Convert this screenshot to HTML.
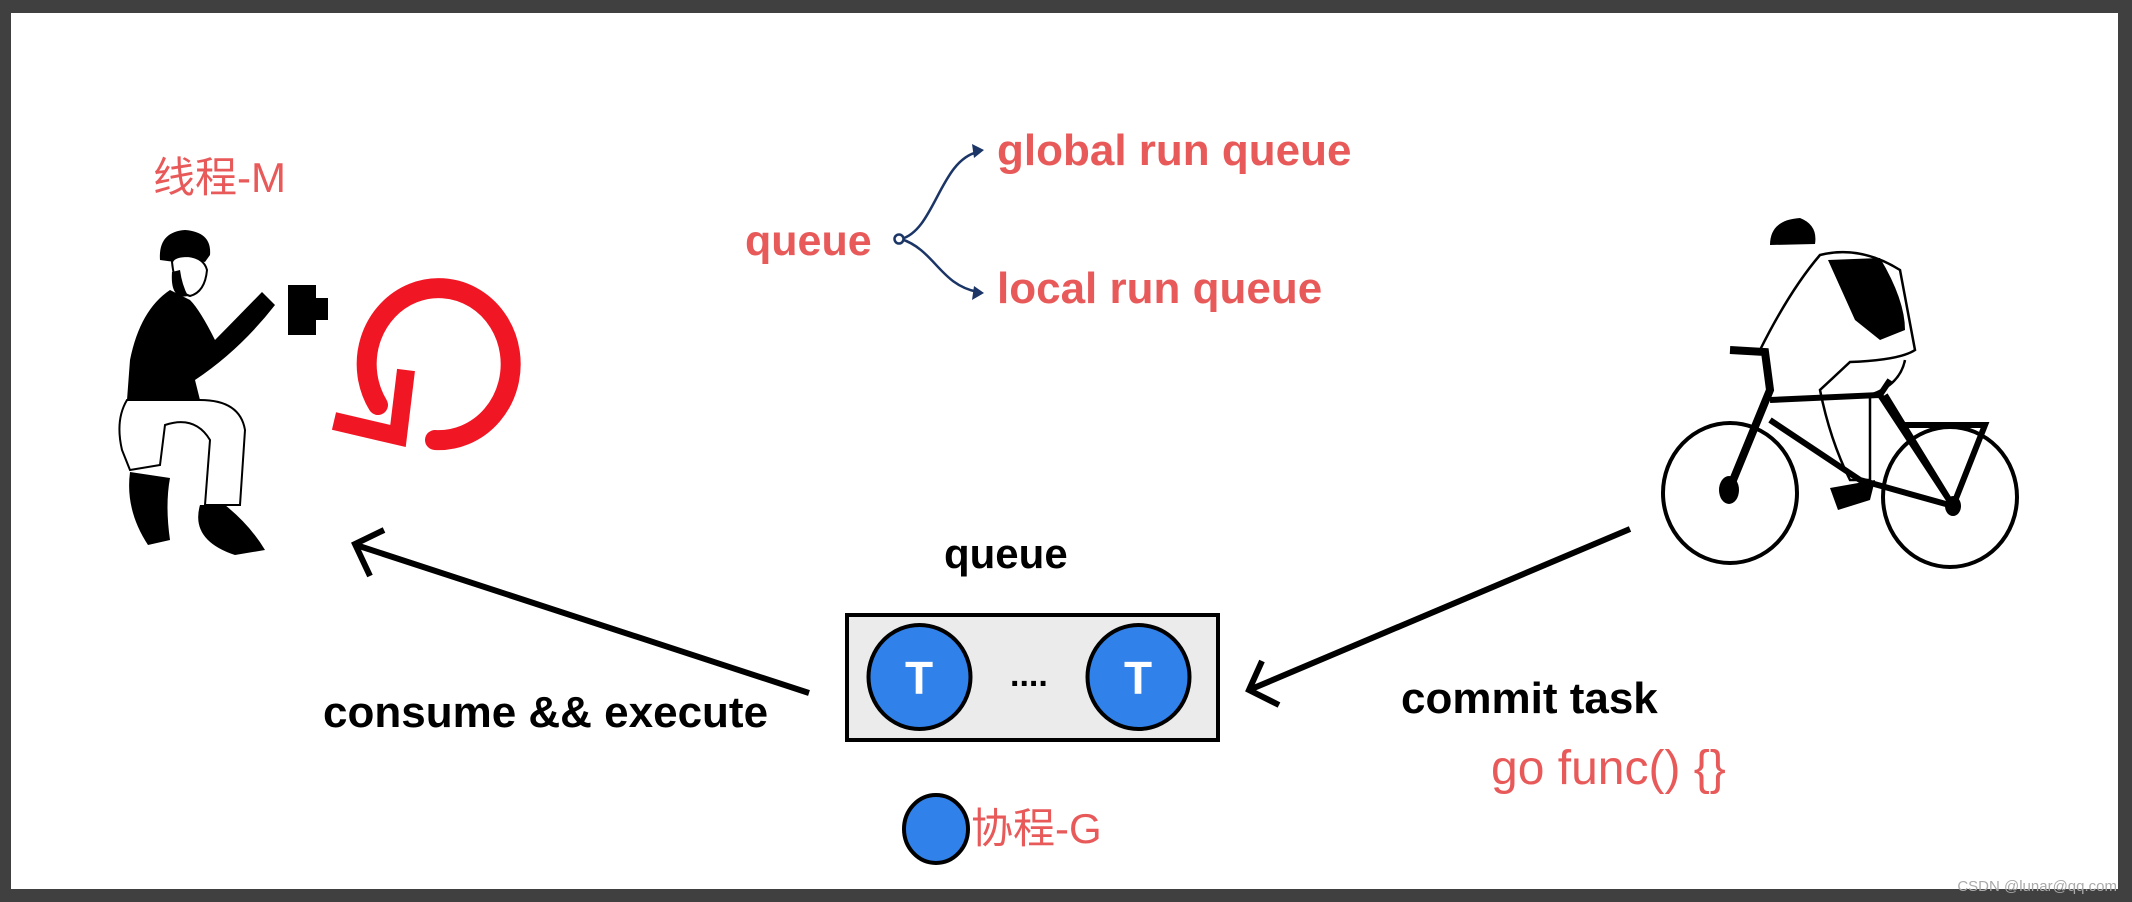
<!DOCTYPE html>
<html><head><meta charset="utf-8">
<style>
html,body{margin:0;padding:0;background:#404040;}
svg{display:block;}
</style></head>
<body>
<svg width="2132" height="902" viewBox="0 0 2132 902" xmlns="http://www.w3.org/2000/svg">
<rect x="0" y="0" width="2132" height="902" fill="#404040"/>
<rect x="11" y="13" width="2107" height="876" fill="#ffffff"/>

<g font-family="Liberation Sans, sans-serif" fill="#e85a5a">
<text x="153" y="192" font-size="42" font-family="Liberation Sans, Noto Sans CJK SC, sans-serif">线程-M</text>
<text x="745" y="255" font-size="43" font-weight="bold">queue</text>
<text x="997" y="165" font-size="44" font-weight="bold">global run queue</text>
<text x="997" y="303" font-size="44" font-weight="bold">local run queue</text>
<text x="1491" y="784" font-size="48">go func() {}</text>
<text x="971" y="843" font-size="42" font-family="Liberation Sans, Noto Sans CJK SC, sans-serif">协程-G</text>
</g>

<g stroke="#1b3566" stroke-width="2.5" fill="none">
<path d="M901 239 C 935 230, 940 160, 978 152"/>
<path d="M901 239 C 935 250, 940 285, 978 292"/>
</g>
<circle cx="899" cy="239" r="4.5" fill="#fff" stroke="#1b3566" stroke-width="2.5"/>
<polygon points="984,150 972,144 974,158" fill="#1b3566"/>
<polygon points="984,293 974,286 972,300" fill="#1b3566"/>

<g font-family="Liberation Sans, sans-serif" font-weight="bold" fill="#000">
<text x="944" y="568" font-size="42">queue</text>
<text x="323" y="727" font-size="44">consume &amp;&amp; execute</text>
<text x="1401" y="713" font-size="44">commit task</text>
</g>

<rect x="847" y="615" width="371" height="125" fill="#ebebeb" stroke="#000" stroke-width="4"/>
<ellipse cx="919.5" cy="677" rx="51" ry="52" fill="#3181ea" stroke="#000" stroke-width="4"/>
<ellipse cx="1138.5" cy="677" rx="51" ry="52" fill="#3181ea" stroke="#000" stroke-width="4"/>
<g font-family="Liberation Sans, sans-serif" font-weight="bold" fill="#fff" font-size="46" text-anchor="middle">
<text x="919" y="694">T</text>
<text x="1138" y="694">T</text>
</g>
<text x="1010" y="686" font-family="Liberation Sans, sans-serif" font-weight="bold" font-size="34" fill="#000">....</text>
<ellipse cx="936" cy="829" rx="32" ry="34" fill="#3181ea" stroke="#000" stroke-width="4"/>

<g stroke="#000" stroke-width="6" fill="none" stroke-linecap="butt">
<line x1="809" y1="693" x2="356" y2="545"/>
<polyline points="384,530 355,544 370,576"/>
<line x1="1630" y1="529" x2="1249" y2="690"/>
<polyline points="1262,661 1249,690 1279,705"/>
</g>

<path d="M435 440 A 72 76 0 1 0 378 405" stroke="#f01623" stroke-width="20" fill="none" stroke-linecap="round"/>
<polyline points="334,421 398,436 406,370" stroke="#f01623" stroke-width="18" fill="none"/>

<g>
<path d="M160 260 Q158 232 185 230 Q212 232 210 255 L205 262 Q190 258 175 262 Z" fill="#000"/>
<path d="M172 262 Q175 292 190 296 Q205 292 207 270 Q204 258 188 256 Q174 256 172 262 Z" fill="#fff" stroke="#000" stroke-width="2"/>
<path d="M172 272 Q170 300 188 296 Q182 285 180 270 Z" fill="#000"/>
<path d="M170 290 Q140 310 130 360 L127 400 Q170 410 200 400 L195 380 Q240 350 275 305 L262 292 Q225 330 215 340 Q200 310 190 300 Z" fill="#000"/>
<rect x="288" y="285" width="28" height="50" fill="#000"/>
<rect x="316" y="298" width="12" height="22" fill="#000"/>
<path d="M127 400 Q115 420 122 450 L130 470 L160 465 L165 425 Q195 415 210 440 L205 505 L240 505 L245 430 Q240 400 200 400 Z" fill="#fff" stroke="#000" stroke-width="2"/>
<path d="M130 472 Q125 510 148 545 L170 540 Q165 505 170 478 Z" fill="#000"/>
<path d="M200 505 Q190 540 235 555 L265 550 Q250 525 225 505 Z" fill="#000"/>
</g>

<g fill="none" stroke="#000">
<ellipse cx="1730" cy="493" rx="67" ry="70" stroke-width="4"/>
<ellipse cx="1950" cy="497" rx="67" ry="70" stroke-width="4"/>
<ellipse cx="1729" cy="490" rx="10" ry="14" fill="#000" stroke="none"/>
<ellipse cx="1953" cy="506" rx="8" ry="10" fill="#000" stroke="none"/>
<path d="M1729 490 L1770 390 L1765 352 L1730 350" stroke-width="8"/>
<path d="M1770 400 L1880 395 L1890 380 M1770 420 L1860 480 L1953 506 L1880 395 M1885 395 L1953 506 M1905 425 L1985 425 L1953 506" stroke-width="6"/>
<path d="M1760 350 Q1790 290 1820 255 Q1860 245 1900 270 L1915 350 Q1900 360 1850 362 L1820 390 Q1830 440 1850 480 L1870 480 L1870 395 Q1900 385 1905 360" stroke-width="2.5"/>
<path d="M1828 260 L1880 258 Q1905 300 1905 330 L1880 340 L1855 320 Z" fill="#000" stroke="none"/>
<path d="M1770 245 Q1770 220 1800 218 Q1818 225 1815 244 Z" fill="#000" stroke="none"/>
<path d="M1830 488 L1875 480 L1870 500 L1838 510 Z" fill="#000" stroke="none"/>
</g>

<text x="2117" y="891" text-anchor="end" font-family="Liberation Sans, sans-serif" font-size="15" fill="#aaaaaa">CSDN @lunar@qq.com</text>
</svg>
</body></html>
